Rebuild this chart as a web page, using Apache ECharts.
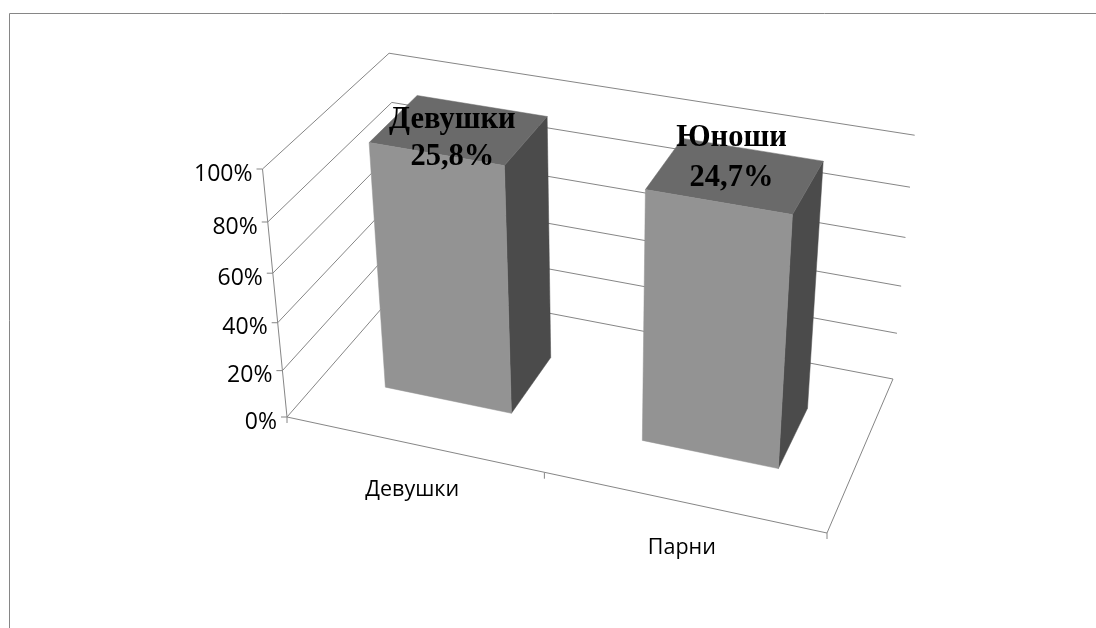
<!DOCTYPE html>
<html>
<head>
<meta charset="utf-8">
<style>html,body{margin:0;padding:0;background:#fff}#c{width:1096px;height:628px}</style>
<script src="https://cdn.jsdelivr.net/npm/echarts@6/dist/echarts.min.js"></script>
</head>
<body>
<div id="c"></div>
<script>
const categories = ['Девушки', 'Парни'];
const shareValues = [100, 100];
const labelNames = ['Девушки', 'Юноши'];
const labelShares = ['25,8%', '24,7%'];
const yTicks = [0, 20, 40, 60, 80, 100];
const yTickLabels = ['0%', '20%', '40%', '60%', '80%', '100%'];

// Layout of the oblique 3D box (pixels of the anchor corners and perspective weights)
const O = [287, 417], X = [827, 533], Y = [262.5, 169], Z = [402, 285];
const PA = -0.0757, PB = -0.08, PC = 0.11;
const SKEW = [-5.5, -1.5];
const BAR_Z = [0.3, 0.7], BAR_FILL = 0.5;
const LINE = '#868686', FRONT = '#939393', TOP = '#6a6a6a', SIDE = '#4b4b4b';
const SANS = '"Open Sans"', SERIF = '"Liberation Serif"';
const labelNudge = [[-7, 9.5], [-4, -17]];
const labelGap = [18.5, 20];

function project(u, v, z) {
  const w = 1 + PA * u + PB * v + PC * z;
  const f = (i) => (O[i] + u * (X[i] * (1 + PA) - O[i]) + v * (Y[i] * (1 + PB) - O[i]) + z * (Z[i] * (1 + PC) - O[i])) / w + SKEW[i] * u * v;
  return [f(0), f(1)];
}
function unit(api, params, cat, val) {
  const p = api.coord([cat, val]), c = params.coordSys;
  return [(p[0] - c.x) / c.width, 1 - (p[1] - c.y) / c.height];
}
function line(points) {
  return { type: 'polyline', shape: { points }, style: { stroke: LINE, lineWidth: 1, fill: null } };
}
function poly(points, fill) {
  return { type: 'polygon', shape: { points }, style: { fill, stroke: fill, lineWidth: 0.5 } };
}
function text(x, y, str, font, align) {
  return { type: 'text', x, y, style: { text: str, font, fill: '#000', align: align || 'center', verticalAlign: 'middle' } };
}

function renderWall(params, api) {
  const v = unit(api, params, 0, api.value(1))[1];
  const front = project(0, v, 0);
  const kids = [
    line([front, project(0, v, 1), project(1, v, 1)]),
    line([[front[0] - 6, front[1]], front]),
    text(front[0] - 10, front[1] + 5, yTickLabels[params.dataIndex], '23px ' + SANS, 'right')
  ];
  if (params.dataIndex === 0) {
    kids.push(line([project(1, 0, 1), project(1, 0, 0), project(0, 0, 0)]));
    kids.push(line([project(0, 0, 0), project(0, 1, 0)]));
    const e0 = project(0, 0, 0), e1 = project(1, 0, 0);
    kids.push(line([e0, [e0[0], e0[1] + 6]]));
    kids.push(line([e1, [e1[0], e1[1] + 6]]));
  }
  return { type: 'group', children: kids };
}

function renderCategory(params, api) {
  const i = api.value(0);
  const mid = unit(api, params, i, 0);
  const half = api.size([1, 0])[0] / params.coordSys.width / 2;
  const kids = [];
  const p = project(mid[0], 0, 0);
  kids.push(text(p[0] - 2, p[1] + 45.5, categories[i], '21.5px ' + SANS));
  if (i < categories.length - 1) {
    const t = project(mid[0] + half, 0, 0);
    kids.push(line([[t[0] - 2, t[1]], [t[0] - 2, t[1] + 6]]));
  }
  return { type: 'group', children: kids };
}

function renderBar(params, api) {
  const i = api.value(0);
  const mid = unit(api, params, i, 0);
  const h = unit(api, params, i, api.value(1))[1];
  const hw = api.size([1, 0])[0] / params.coordSys.width * BAR_FILL / 2;
  const u0 = mid[0] - hw, u1 = mid[0] + hw, z0 = BAR_Z[0], z1 = BAR_Z[1];
  const P = (u, v, z) => project(u, v, z);
  return {
    type: 'group',
    children: [
      poly([P(u1, 0, z0), P(u1, 0, z1), P(u1, h, z1), P(u1, h, z0)], SIDE),
      poly([P(u0, h, z0), P(u1, h, z0), P(u1, h, z1), P(u0, h, z1)], TOP),
      poly([P(u0, 0, z0), P(u1, 0, z0), P(u1, h, z0), P(u0, h, z0)], FRONT)
    ]
  };
}

function renderLabel(params, api) {
  const i = api.value(0);
  const mid = unit(api, params, i, 0);
  const h = unit(api, params, i, api.value(1))[1];
  const c = project(mid[0], h, (BAR_Z[0] + BAR_Z[1]) / 2);
  const x = c[0] + labelNudge[i][0], y = c[1] + labelNudge[i][1];
  const font = 'bold 30.5px ' + SERIF;
  return {
    type: 'group',
    children: [text(x, y - labelGap[i], labelNames[i], font), text(x, y + labelGap[i], labelShares[i], font)]
  };
}

const barData = categories.map((_, i) => [i, shareValues[i]]);
const chart = echarts.init(document.getElementById('c'), null, { renderer: 'canvas' });
chart.setOption({
  animation: false,
  backgroundColor: '#fff',
  graphic: [{
    type: 'polyline', silent: true,
    shape: { points: [[9.5, 628], [9.5, 13.5], [1096, 13.5]] },
    style: { stroke: LINE, lineWidth: 1, fill: null }
  }],
  grid: { left: 0, right: 0, top: 0, bottom: 0 },
  xAxis: { type: 'category', data: categories, show: false },
  yAxis: { type: 'value', min: 0, max: 100, interval: 20, show: false },
  series: [
    { type: 'custom', silent: true, renderItem: renderWall, data: yTicks.map(t => [0, t]), z: 1 },
    { type: 'custom', silent: true, renderItem: renderCategory, data: categories.map((_, i) => [i, 0]), z: 2 },
    { type: 'custom', silent: true, renderItem: renderBar, data: barData, z: 3 },
    { type: 'custom', silent: true, renderItem: renderLabel, data: barData, z: 4 }
  ]
});
</script>
</body>
</html>
